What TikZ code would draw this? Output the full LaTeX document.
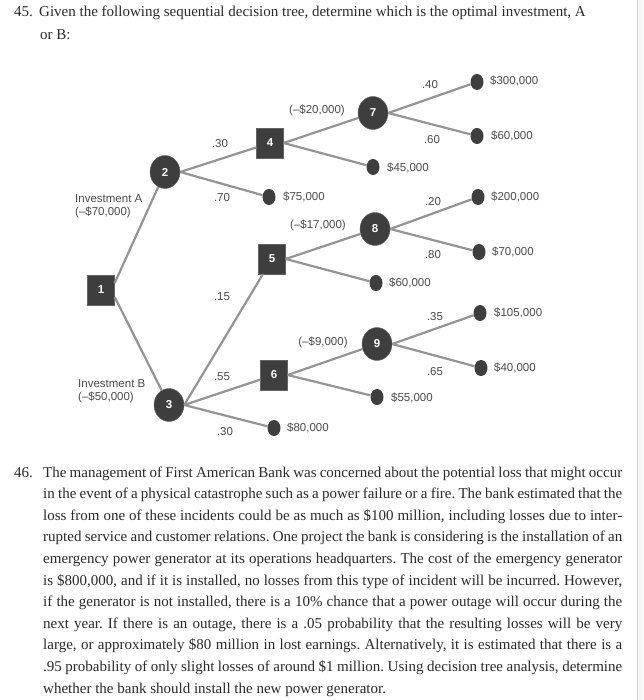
\documentclass[tikz,border=0pt]{standalone}
\usepackage{fontspec}
\setmainfont{Liberation Serif}
\newfontfamily\diagfont{Liberation Sans}
\usetikzlibrary{shapes.geometric}
\definecolor{txt}{HTML}{2A2A2A}
\definecolor{dtxt}{HTML}{4A4A4A}
\definecolor{edge}{HTML}{949494}
\definecolor{nodefill}{HTML}{3E3E3E}
\tikzset{
  decbox/.style={draw=nodefill!80!white,fill=nodefill,minimum width=27pt,minimum height=30pt,inner sep=0pt,text=white,font=\diagfont\fontsize{11.5}{11.5}\selectfont\bfseries},
  chance/.style={ellipse,draw=nodefill!80!white,fill=nodefill,minimum width=30pt,minimum height=33pt,inner sep=0pt,text=white,font=\diagfont\fontsize{11.5}{11.5}\selectfont\bfseries},
  endpt/.style={ellipse,fill=nodefill,minimum width=13pt,minimum height=16pt,inner sep=0pt},
  branch/.style={draw=edge,line width=2.2pt},
  lbl/.style={text=dtxt,font=\diagfont\fontsize{11.5}{13}\selectfont,inner sep=0pt},
  val/.style={lbl,anchor=west},
  para/.style={anchor=base west,inner sep=0pt,text=txt,font=\fontsize{15}{17}\selectfont\frenchspacing}
}
\newcommand{\jline}[1]{\makebox[579pt][s]{#1}}
\begin{document}
\begin{tikzpicture}[x=1pt,y=-1pt]
\useasboundingbox (0,0) rectangle (643,700);
\fill[white] (0,0) rectangle (643,700);
\fill[gray!6] (637,0) rectangle (643,700);
\draw[gray!35,line width=0.8pt] (637,0) -- (637,700);

% title
\node[para] (q45n) at (14,17) {45.};
\node[para] (q45a) at (39,17) {Given the following sequential decision tree, determine which is the optimal investment, A};
\node[para] (q45b) at (40,40) {or B:};

% nodes
\node[decbox] (n1) at (101,290) {1};
\node[chance] (n2) at (165,172) {2};
\node[chance] (n3) at (169,405) {3};
\node[decbox] (n4) at (270,143) {4};
\node[decbox] (n5) at (272,259) {5};
\node[decbox] (n6) at (274,375) {6};
\node[chance] (n7) at (373,113) {7};
\node[chance] (n8) at (375,229) {8};
\node[chance] (n9) at (377,344) {9};
\node[endpt] (e75) at (269,197) {};
\node[endpt] (e80) at (274,428) {};
\node[endpt] (e45) at (373,167) {};
\node[endpt] (e60b) at (376,283) {};
\node[endpt] (e55) at (377,397) {};
\node[endpt] (e300) at (477,82) {};
\node[endpt] (e60a) at (477,136) {};
\node[endpt] (e200) at (478,197) {};
\node[endpt] (e70) at (479,252) {};
\node[endpt] (e105) at (480,313) {};
\node[endpt] (e40) at (481,368) {};

% branches
\draw[branch] ([yshift=7pt]n1.east) -- (n2);
\draw[branch] ([yshift=-7pt]n1.east) -- (n3);
\draw[branch] (n2.east) -- (n4);
\draw[branch] (n2.east) -- (e75);
\draw[branch] (n3.east) -- (n5);
\draw[branch] (n3.east) -- (n6);
\draw[branch] (n3.east) -- (e80);
\draw[branch] (n4.east) -- (n7);
\draw[branch] (n4.east) -- (e45);
\draw[branch] (n5.east) -- (n8);
\draw[branch] (n5.east) -- (e60b);
\draw[branch] (n6.east) -- (n9);
\draw[branch] (n6.east) -- (e55);
\draw[branch] (n7.east) -- (e300);
\draw[branch] (n7.east) -- (e60a);
\draw[branch] (n8.east) -- (e200);
\draw[branch] (n8.east) -- (e70);
\draw[branch] (n9.east) -- (e105);
\draw[branch] (n9.east) -- (e40);

% labels
\node[lbl,anchor=west,align=left] (invA) at (75,206) {Investment A\\(\textendash\$70,000)};
\node[lbl,anchor=west,align=left] (invB) at (78,391) {Investment B\\(\textendash\$50,000)};
\node[lbl] (p30a) at (220,144) {.30};
\node[lbl] (p70) at (222,198) {.70};
\node[lbl] (p15) at (222,297) {.15};
\node[lbl] (p55) at (222,377) {.55};
\node[lbl] (p30b) at (225,432) {.30};
\node[lbl] (p40) at (430,85) {.40};
\node[lbl] (p60) at (432,140) {.60};
\node[lbl] (p20) at (433,202) {.20};
\node[lbl] (p80) at (433,255) {.80};
\node[lbl] (p35) at (435,317) {.35};
\node[lbl] (p65) at (435,372) {.65};
\node[lbl] (c20) at (317,110) {(\textendash\$20,000)};
\node[lbl] (c17) at (318,225) {(\textendash\$17,000)};
\node[lbl] (c9) at (323,342) {(\textendash\$9,000)};
\node[val] (v75) at (283,197) {\$75,000};
\node[val] (v80) at (287,428) {\$80,000};
\node[val] (v45) at (387,168) {\$45,000};
\node[val] (v60b) at (389,283) {\$60,000};
\node[val] (v55) at (391,398) {\$55,000};
\node[val] (v300) at (490,81) {\$300,000};
\node[val] (v60a) at (491,136) {\$60,000};
\node[val] (v200) at (491,197) {\$200,000};
\node[val] (v70) at (492,252) {\$70,000};
\node[val] (v105) at (494,313) {\$105,000};
\node[val] (v40) at (494,368) {\$40,000};

% problem 46
\node[para] (q46n) at (14,477) {46.};
\node[para] (l1) at (43,477) {\jline{The management of First American Bank was concerned about the potential loss that might occur}};
\node[para] (l2) at (43,498.6) {\jline{in the event of a physical catastrophe such as a power failure or a fire. The bank estimated that the}};
\node[para] (l3) at (43,520.2) {\jline{loss from one of these incidents could be as much as \$100 million, including losses due to inter-}};
\node[para] (l4) at (43,541.8) {\jline{rupted service and customer relations. One project the bank is considering is the installation of an}};
\node[para] (l5) at (43,563.4) {\jline{emergency power generator at its operations headquarters. The cost of the emergency generator}};
\node[para] (l6) at (43,585) {\jline{is \$800,000, and if it is installed, no losses from this type of incident will be incurred. However,}};
\node[para] (l7) at (43,606.6) {\jline{if the generator is not installed, there is a 10\% chance that a power outage will occur during the}};
\node[para] (l8) at (43,628.2) {\jline{next year. If there is an outage, there is a .05 probability that the resulting losses will be very}};
\node[para] (l9) at (43,649.8) {\jline{large, or approximately \$80 million in lost earnings. Alternatively, it is estimated that there is a}};
\node[para] (l10) at (43,671.4) {\jline{.95 probability of only slight losses of around \$1 million. Using decision tree analysis, determine}};
\node[para] (l11) at (43,693) {whether the bank should install the new power generator.};
\end{tikzpicture}
\end{document}
